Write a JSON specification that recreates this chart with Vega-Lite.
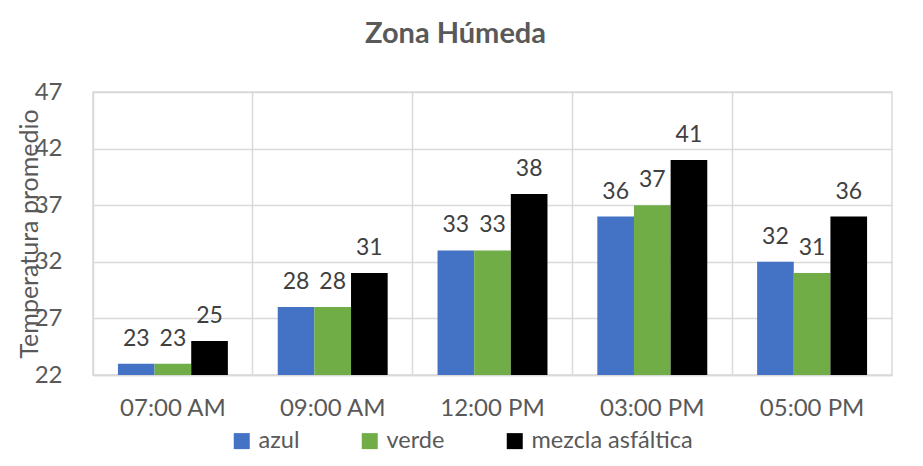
{
  "$schema": "https://vega.github.io/schema/vega-lite/v6.json",
  "width": 799,
  "height": 283,
  "autosize": {"type": "none"},
  "padding": {"left": 93, "top": 92, "right": 31, "bottom": 91},
  "background": "white",
  "config": {"view": {"stroke": "#d9d9d9", "strokeWidth": 1.5}},
  "title": {"text": "Zona Húmeda", "fontSize": 29, "fontWeight": "bold", "color": "#595959", "font": "Lato", "offset": 31, "dx": -37, "anchor": "middle"},
  "data": {"values": [
    {"hora": "07:00 AM", "serie": "azul", "valor": 23},
    {"hora": "07:00 AM", "serie": "verde", "valor": 23},
    {"hora": "07:00 AM", "serie": "mezcla asfáltica", "valor": 25},
    {"hora": "09:00 AM", "serie": "azul", "valor": 28},
    {"hora": "09:00 AM", "serie": "verde", "valor": 28},
    {"hora": "09:00 AM", "serie": "mezcla asfáltica", "valor": 31},
    {"hora": "12:00 PM", "serie": "azul", "valor": 33},
    {"hora": "12:00 PM", "serie": "verde", "valor": 33},
    {"hora": "12:00 PM", "serie": "mezcla asfáltica", "valor": 38},
    {"hora": "03:00 PM", "serie": "azul", "valor": 36},
    {"hora": "03:00 PM", "serie": "verde", "valor": 37},
    {"hora": "03:00 PM", "serie": "mezcla asfáltica", "valor": 41},
    {"hora": "05:00 PM", "serie": "azul", "valor": 32},
    {"hora": "05:00 PM", "serie": "verde", "valor": 31},
    {"hora": "05:00 PM", "serie": "mezcla asfáltica", "valor": 36}
  ]},
  "encoding": {
    "x": {
      "field": "hora", "type": "nominal",
      "sort": ["07:00 AM", "09:00 AM", "12:00 PM", "03:00 PM", "05:00 PM"],
      "scale": {"paddingInner": 0, "paddingOuter": 0},
      "axis": {"title": null, "labelAngle": 0, "grid": true, "bandPosition": 0, "gridColor": "#d9d9d9", "gridWidth": 1.5, "ticks": false, "domainColor": "#d9d9d9", "domainWidth": 1.5, "labelPadding": 21, "labelFontSize": 24, "labelColor": "#595959", "labelFont": "Lato"}
    },
    "xOffset": {"field": "serie", "type": "nominal", "sort": ["azul", "verde", "mezcla asfáltica"], "scale": {"paddingOuter": 0.68, "paddingInner": 0}},
    "y": {
      "field": "valor", "type": "quantitative",
      "scale": {"domain": [22, 47], "nice": false, "zero": false},
      "axis": {"values": [22, 27, 32, 37, 42, 47], "title": "Temperatura promedio", "titleX": -64, "titleY": 141.5, "titleBaseline": "middle", "titleAlign": "center", "titleFontSize": 25, "titleFontWeight": "normal", "titleColor": "#595959", "titleFont": "Lato", "grid": true, "gridColor": "#d9d9d9", "gridWidth": 1.5, "domain": false, "ticks": false, "labelPadding": 31, "labelFontSize": 24, "labelColor": "#595959", "labelFont": "Lato"}
    }
  },
  "layer": [
    {
      "mark": {"type": "bar", "clip": true},
      "encoding": {
        "color": {
          "field": "serie", "type": "nominal",
          "sort": ["azul", "verde", "mezcla asfáltica"],
          "scale": {"domain": ["azul", "verde", "mezcla asfáltica"], "range": ["#4472C4", "#70AD47", "#000000"]},
          "legend": {"title": null, "orient": "none", "legendX": 137, "legendY": 337, "direction": "horizontal", "symbolType": "square", "symbolSize": 256, "symbolStrokeWidth": 0, "labelFontSize": 23.5, "labelLimit": 400, "labelColor": "#595959", "labelFont": "Lato", "labelOffset": 5, "columnPadding": 58}
        }
      }
    },
    {
      "mark": {"type": "text", "baseline": "alphabetic", "dy": -18, "fontSize": 23, "color": "#404040", "font": "Lato"},
      "encoding": {"text": {"field": "valor", "type": "quantitative"}}
    }
  ]
}
